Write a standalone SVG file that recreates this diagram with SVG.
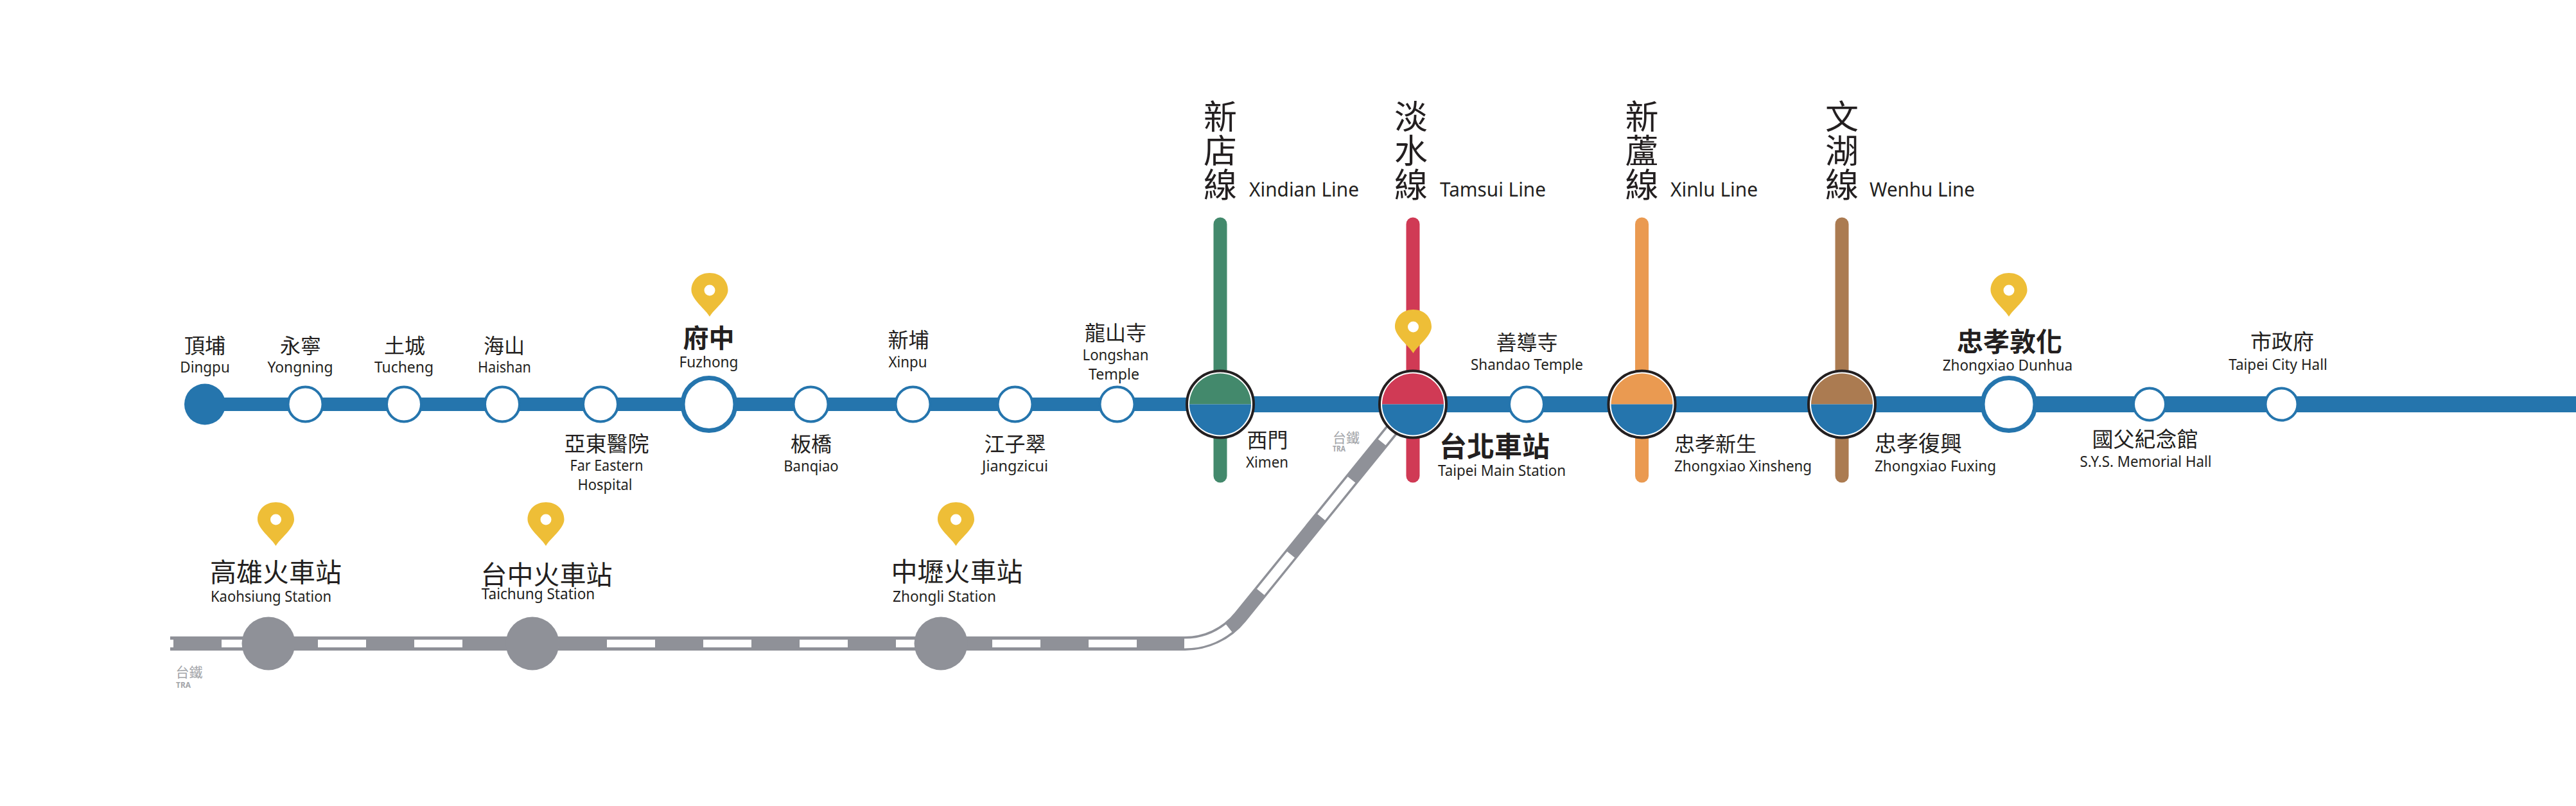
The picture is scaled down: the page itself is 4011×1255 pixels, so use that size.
<svg xmlns="http://www.w3.org/2000/svg" width="4011" height="1255" viewBox="0 0 4011 1255">
<style>
.zh{font-family:"Noto Sans CJK TC","Noto Sans",sans-serif;font-size:32px;fill:#231f20;text-anchor:middle}
.en{font-family:"Noto Sans","Liberation Sans",sans-serif;font-size:24px;fill:#231f20;text-anchor:middle}
.b{font-weight:700}
.title{font-size:52px;writing-mode:vertical-rl;text-anchor:start;letter-spacing:1px}
.ln{font-size:31px;text-anchor:start}
.start{text-anchor:start}
.tra{font-family:"Noto Sans CJK TC","Noto Sans",sans-serif;font-size:21px;fill:#a3a5a9;text-anchor:middle}
.tra2{font-family:"Noto Sans","Liberation Sans",sans-serif;font-size:12px;font-weight:700;fill:#a3a5a9;text-anchor:middle}
.st{fill:#fff;stroke:#2575ad;stroke-width:4}
.big{fill:#fff;stroke:#2575ad;stroke-width:7}
.ring{fill:#fff;stroke:#231f20;stroke-width:4}
.blue{fill:#2575ad}
.gs{fill:#8f9198}
.v{stroke-width:21;stroke-linecap:round;fill:none}
</style>
<defs>
<g id="pin"><path fill="#eebe37" d="M0,0C-6,-11 -28.5,-27 -28.5,-41C-28.5,-57 -16,-68 0,-68C16,-68 28.5,-57 28.5,-41C28.5,-27 6,-11 0,0Z"/><circle cy="-41" r="8.5" fill="#fff"/></g>
<path id="upper" d="M-48,0A48,48 0 0 1 48,0Z"/>
<path id="lower" class="blue" d="M-48,0A48,48 0 0 0 48,0Z"/>
</defs>
<rect width="4011" height="1255" fill="#fff"/>
<g id="connectors">
<path d="M319,629.5H1900" fill="none" stroke="#2575ad" stroke-width="21"/>
<path d="M1900,629.5H4011" fill="none" stroke="#2575ad" stroke-width="25"/>
<path class="v" stroke="#43896c" d="M1900,349V741"/>
<path class="v" stroke="#d03a55" d="M2200,349V741"/>
<path class="v" stroke="#ea9a51" d="M2556.5,349V741"/>
<path class="v" stroke="#ab7b51" d="M2868,349V741"/>
<path d="M265,1002H1844A111,111 0 0 0 1931,961L2200,629" fill="none" stroke="#8f9198" stroke-width="22"/>
<path d="M265,1002H1844" fill="none" stroke="#fff" stroke-width="12" stroke-dasharray="75 75" stroke-dashoffset="70"/>
<path d="M1844,1002A111,111 0 0 0 1931,961L2200,629" fill="none" stroke="#fff" stroke-width="15" stroke-dasharray="75 75"/>
</g>
<g id="dingpu"><circle class="blue" cx="319" cy="629.5" r="32"/><text class="zh" x="319" y="549.5">頂埔</text><text class="en" x="319" y="580" textLength="77.5" lengthAdjust="spacingAndGlyphs">Dingpu</text></g>
<g id="yongning"><circle class="st" cx="475.5" cy="629.5" r="27"/><text class="zh" x="468" y="549.5">永寧</text><text class="en" x="467.5" y="580" textLength="102" lengthAdjust="spacingAndGlyphs">Yongning</text></g>
<g id="tucheng"><circle class="st" cx="629" cy="629.5" r="27"/><text class="zh" x="630" y="549.5">土城</text><text class="en" x="629" y="580" textLength="92" lengthAdjust="spacingAndGlyphs">Tucheng</text></g>
<g id="haishan"><circle class="st" cx="782" cy="629.5" r="27"/><text class="zh" x="785" y="549.5">海山</text><text class="en" x="785.5" y="580" textLength="83" lengthAdjust="spacingAndGlyphs">Haishan</text></g>
<g id="far-eastern"><circle class="st" cx="935" cy="629.5" r="27"/><text class="zh" x="944.5" y="703" style="font-size:33px">亞東醫院</text><text class="en" x="944.5" y="733" textLength="114" lengthAdjust="spacingAndGlyphs">Far Eastern</text><text class="en" x="942" y="763" textLength="85" lengthAdjust="spacingAndGlyphs">Hospital</text></g>
<g id="fuzhong"><circle class="big" cx="1104" cy="629.5" r="41"/><use href="#pin" x="1105" y="493"/><text class="zh b" x="1103.5" y="541" style="font-size:40px">府中</text><text class="en" x="1103.5" y="572" textLength="92" lengthAdjust="spacingAndGlyphs">Fuzhong</text></g>
<g id="banqiao"><circle class="st" cx="1262.5" cy="629.5" r="27"/><text class="zh" x="1263" y="703">板橋</text><text class="en" x="1263" y="734" textLength="85.5" lengthAdjust="spacingAndGlyphs">Banqiao</text></g>
<g id="xinpu"><circle class="st" cx="1421.5" cy="629.5" r="27"/><text class="zh" x="1414.5" y="541">新埔</text><text class="en" x="1413.5" y="571.5" textLength="60" lengthAdjust="spacingAndGlyphs">Xinpu</text></g>
<g id="jiangzicui"><circle class="st" cx="1580.5" cy="629.5" r="27"/><text class="zh" x="1580.5" y="703">江子翠</text><text class="en" x="1580.5" y="734" textLength="103" lengthAdjust="spacingAndGlyphs">Jiangzicui</text></g>
<g id="longshan"><circle class="st" cx="1739.5" cy="629.5" r="27"/><text class="zh" x="1737" y="530">龍山寺</text><text class="en" x="1737" y="560.5" textLength="103" lengthAdjust="spacingAndGlyphs">Longshan</text><text class="en" x="1734.5" y="591" textLength="79" lengthAdjust="spacingAndGlyphs">Temple</text></g>
<g id="ximen"><g transform="translate(1900,629.5)"><circle class="ring" r="52"/><use href="#upper" fill="#43896c"/><use href="#lower"/></g><text class="zh" x="1973.5" y="697">西門</text><text class="en" x="1973" y="727.5" textLength="66" lengthAdjust="spacingAndGlyphs">Ximen</text></g>
<g id="taipei-main"><g transform="translate(2200,629.5)"><circle class="ring" r="52"/><use href="#upper" fill="#d03a55"/><use href="#lower"/></g><use href="#pin" x="2200.5" y="550"/><text class="zh b start" x="2241" y="711" style="font-size:43px">台北車站</text><text class="en start" x="2239" y="741" textLength="199" lengthAdjust="spacingAndGlyphs">Taipei Main Station</text></g>
<g id="shandao"><circle class="st" cx="2377" cy="629.5" r="27"/><text class="zh" x="2377.5" y="545">善導寺</text><text class="en" x="2377.5" y="575.5" textLength="175" lengthAdjust="spacingAndGlyphs">Shandao Temple</text></g>
<g id="xinsheng"><g transform="translate(2556.5,629.5)"><circle class="ring" r="52"/><use href="#upper" fill="#ea9a51"/><use href="#lower"/></g><text class="zh start" x="2607" y="703">忠孝新生</text><text class="en start" x="2607" y="734" textLength="214" lengthAdjust="spacingAndGlyphs">Zhongxiao Xinsheng</text></g>
<g id="fuxing"><g transform="translate(2868,629.5)"><circle class="ring" r="52"/><use href="#upper" fill="#ab7b51"/><use href="#lower"/></g><text class="zh start" x="2919" y="703" style="font-size:34px">忠孝復興</text><text class="en start" x="2919" y="734" textLength="189" lengthAdjust="spacingAndGlyphs">Zhongxiao Fuxing</text></g>
<g id="dunhua"><circle class="big" cx="3128" cy="629.5" r="41"/><use href="#pin" x="3128" y="493"/><text class="zh b" x="3129" y="547" style="font-size:41px">忠孝敦化</text><text class="en" x="3126" y="577" textLength="202.5" lengthAdjust="spacingAndGlyphs">Zhongxiao Dunhua</text></g>
<g id="sys"><circle class="st" cx="3347" cy="629.5" r="25"/><text class="zh" x="3340" y="696" style="font-size:33px">國父紀念館</text><text class="en" x="3341" y="727" textLength="205" lengthAdjust="spacingAndGlyphs">S.Y.S. Memorial Hall</text></g>
<g id="city-hall"><circle class="st" cx="3552.5" cy="629.5" r="25"/><text class="zh" x="3553.5" y="544" style="font-size:33px">市政府</text><text class="en" x="3547" y="575.5" textLength="153.5" lengthAdjust="spacingAndGlyphs">Taipei City Hall</text></g>
<g id="line-xindian"><text class="zh title" x="1900" y="155">新店線</text><text class="en ln" x="1945" y="306" textLength="171" lengthAdjust="spacingAndGlyphs">Xindian Line</text></g>
<g id="line-tamsui"><text class="zh title" x="2197" y="155">淡水線</text><text class="en ln" x="2242" y="306" textLength="165" lengthAdjust="spacingAndGlyphs">Tamsui Line</text></g>
<g id="line-xinlu"><text class="zh title" x="2556.5" y="155">新蘆線</text><text class="en ln" x="2601" y="306" textLength="136" lengthAdjust="spacingAndGlyphs">Xinlu Line</text></g>
<g id="line-wenhu"><text class="zh title" x="2868" y="155">文湖線</text><text class="en ln" x="2911" y="306" textLength="164" lengthAdjust="spacingAndGlyphs">Wenhu Line</text></g>
<g id="kaohsiung"><circle class="gs" cx="418" cy="1002" r="41.5"/><use href="#pin" x="429.5" y="850"/><text class="zh" x="429.5" y="906" style="font-size:41px">高雄火車站</text><text class="en" x="422" y="937" textLength="188" lengthAdjust="spacingAndGlyphs">Kaohsiung Station</text></g>
<g id="taichung"><circle class="gs" cx="829" cy="1002" r="41.5"/><use href="#pin" x="850" y="850"/><text class="zh" x="851" y="910" style="font-size:41px">台中火車站</text><text class="en" x="838" y="933" textLength="176.5" lengthAdjust="spacingAndGlyphs">Taichung Station</text></g>
<g id="zhongli"><circle class="gs" cx="1465" cy="1002" r="41.5"/><use href="#pin" x="1488.5" y="850"/><text class="zh" x="1490" y="905" style="font-size:41px">中壢火車站</text><text class="en" x="1470.5" y="937" textLength="161" lengthAdjust="spacingAndGlyphs">Zhongli Station</text></g>
<g id="tra-label-1"><text class="tra" x="2096" y="689">台鐵</text><text class="tra2" x="2085" y="703" textLength="20" lengthAdjust="spacingAndGlyphs">TRA</text></g>
<g id="tra-label-2"><text class="tra" x="294.5" y="1054">台鐵</text><text class="tra2" x="285.5" y="1071" textLength="23" lengthAdjust="spacingAndGlyphs">TRA</text></g>
</svg>
